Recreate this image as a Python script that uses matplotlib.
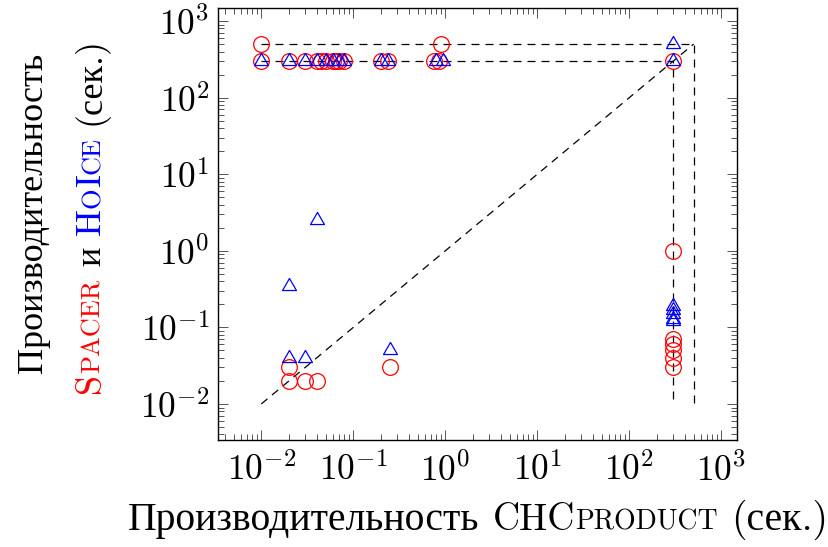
import numpy as np
import matplotlib
matplotlib.use("Agg")
import matplotlib.pyplot as plt
from matplotlib.ticker import LogLocator, FuncFormatter, NullFormatter
from matplotlib.transforms import IdentityTransform

plt.rcParams['font.family'] = ['cmr10', 'Liberation Serif']
plt.rcParams['mathtext.fontset'] = 'cm'

# Spacer (red circles)
spacer_x = [0.01, 0.02, 0.03, 0.04, 0.045, 0.05, 0.06, 0.065, 0.07, 0.08, 0.2, 0.24, 0.75, 0.85, 300,
            0.01, 0.9,
            0.02, 0.02, 0.03, 0.04, 0.25,
            300, 300, 300, 300, 300, 300]
spacer_y = [300, 300, 300, 300, 300, 300, 300, 300, 300, 300, 300, 300, 300, 300, 300,
            500, 500,
            0.03, 0.02, 0.02, 0.02, 0.03,
            1.0, 0.07, 0.06, 0.05, 0.04, 0.03]

# HoIce (blue triangles)
hoice_x = [0.01, 0.02, 0.03, 0.04, 0.05, 0.06, 0.07, 0.08, 0.2, 0.24, 0.8, 0.95, 300,
           300,
           0.04, 0.02, 0.02, 0.03, 0.25,
           300, 300, 300, 300, 300]
hoice_y = [300, 300, 300, 300, 300, 300, 300, 300, 300, 300, 300, 300, 300,
           500,
           2.5, 0.35, 0.04, 0.04, 0.05,
           0.19, 0.17, 0.15, 0.13, 0.12]

timeout = 500
limit = 300
low = 0.01

fig = plt.figure(figsize=(8.29, 5.47), dpi=100)
ax = fig.add_axes([218/829, 1-440/547, 519/829, 432/547])

dash = dict(color='black', lw=0.9, dashes=(6.4, 4.8))
ax.plot([low, timeout, timeout], [timeout, timeout, low], **dash)
ax.plot([low, limit, limit], [limit, limit, low], **dash)
ax.plot([low, timeout], [low, timeout], **dash)

tri = [(0, 1), (-0.866, -0.5), (0.866, -0.5), (0, 1)]
ax.plot(spacer_x, spacer_y, ls='none', marker='o', ms=11.3, mfc='none', mec='red', mew=0.9)
ax.plot(hoice_x, hoice_y, ls='none', marker=tri, ms=11.6, mfc='none', mec='blue', mew=0.9)

ax.set_xscale('log')
ax.set_yscale('log')
ax.set_xlim(10**-2.47, 10**3.17)
ax.set_ylim(10**-2.47, 10**3.17)
fmt = FuncFormatter(lambda v, p: r'$10^{%d}$' % round(np.log10(v)))
for a in (ax.xaxis, ax.yaxis):
    a.set_major_locator(LogLocator(base=10, numticks=12))
    a.set_minor_locator(LogLocator(base=10, subs=np.arange(2, 10), numticks=12))
    a.set_major_formatter(fmt)
    a.set_minor_formatter(NullFormatter())
ax.tick_params(which='both', direction='in', top=True, right=True, color='#555555', width=0.7)
ax.tick_params(which='major', length=7, labelsize=25.5)
ax.tick_params(axis='x', which='major', pad=9)
ax.tick_params(axis='y', which='major', pad=6)
ax.tick_params(which='minor', length=4)
for s in ax.spines.values():
    s.set_linewidth(1.0)

big = 26
small = 19
gap = 12
renderer = fig.canvas.get_renderer()


def place(pieces, x, y, vertical):
    items = []
    total = 0
    for s, size, color, g in pieces:
        t = fig.text(0, 0, s, fontsize=size, color=color, transform=IdentityTransform(),
                     ha='left', va='baseline', rotation_mode='anchor')
        w = t.get_window_extent(renderer).width
        items.append((t, g, w))
        total += g + w
    pos = (y if vertical else x) - total / 2
    for t, g, w in items:
        pos += g
        if vertical:
            t.set_rotation(90)
            t.set_position((x, pos))
        else:
            t.set_position((pos, y))
        pos += w


place([("Производительность", 28.5, 'black', 0),
       ("CHC", 27, 'black', 13),
       ("PRODUCT", 20, 'black', 0),
       ("(сек.)", 28.5, 'black', 13)], 478, 547 - 530, False)

place([("Производительность", big, 'black', 0)], 42, 547 - 213, True)
place([("S", big, 'red', 0),
       ("PACER", small, 'red', 0),
       ("и", big, 'black', gap),
       ("H", big, 'blue', gap),
       ("O", small, 'blue', 0),
       ("I", big, 'blue', 0),
       ("CE", small, 'blue', 0),
       ("(сек.)", big, 'black', gap)], 100, 547 - 215, True)

fig.savefig("out.png", dpi=100)
